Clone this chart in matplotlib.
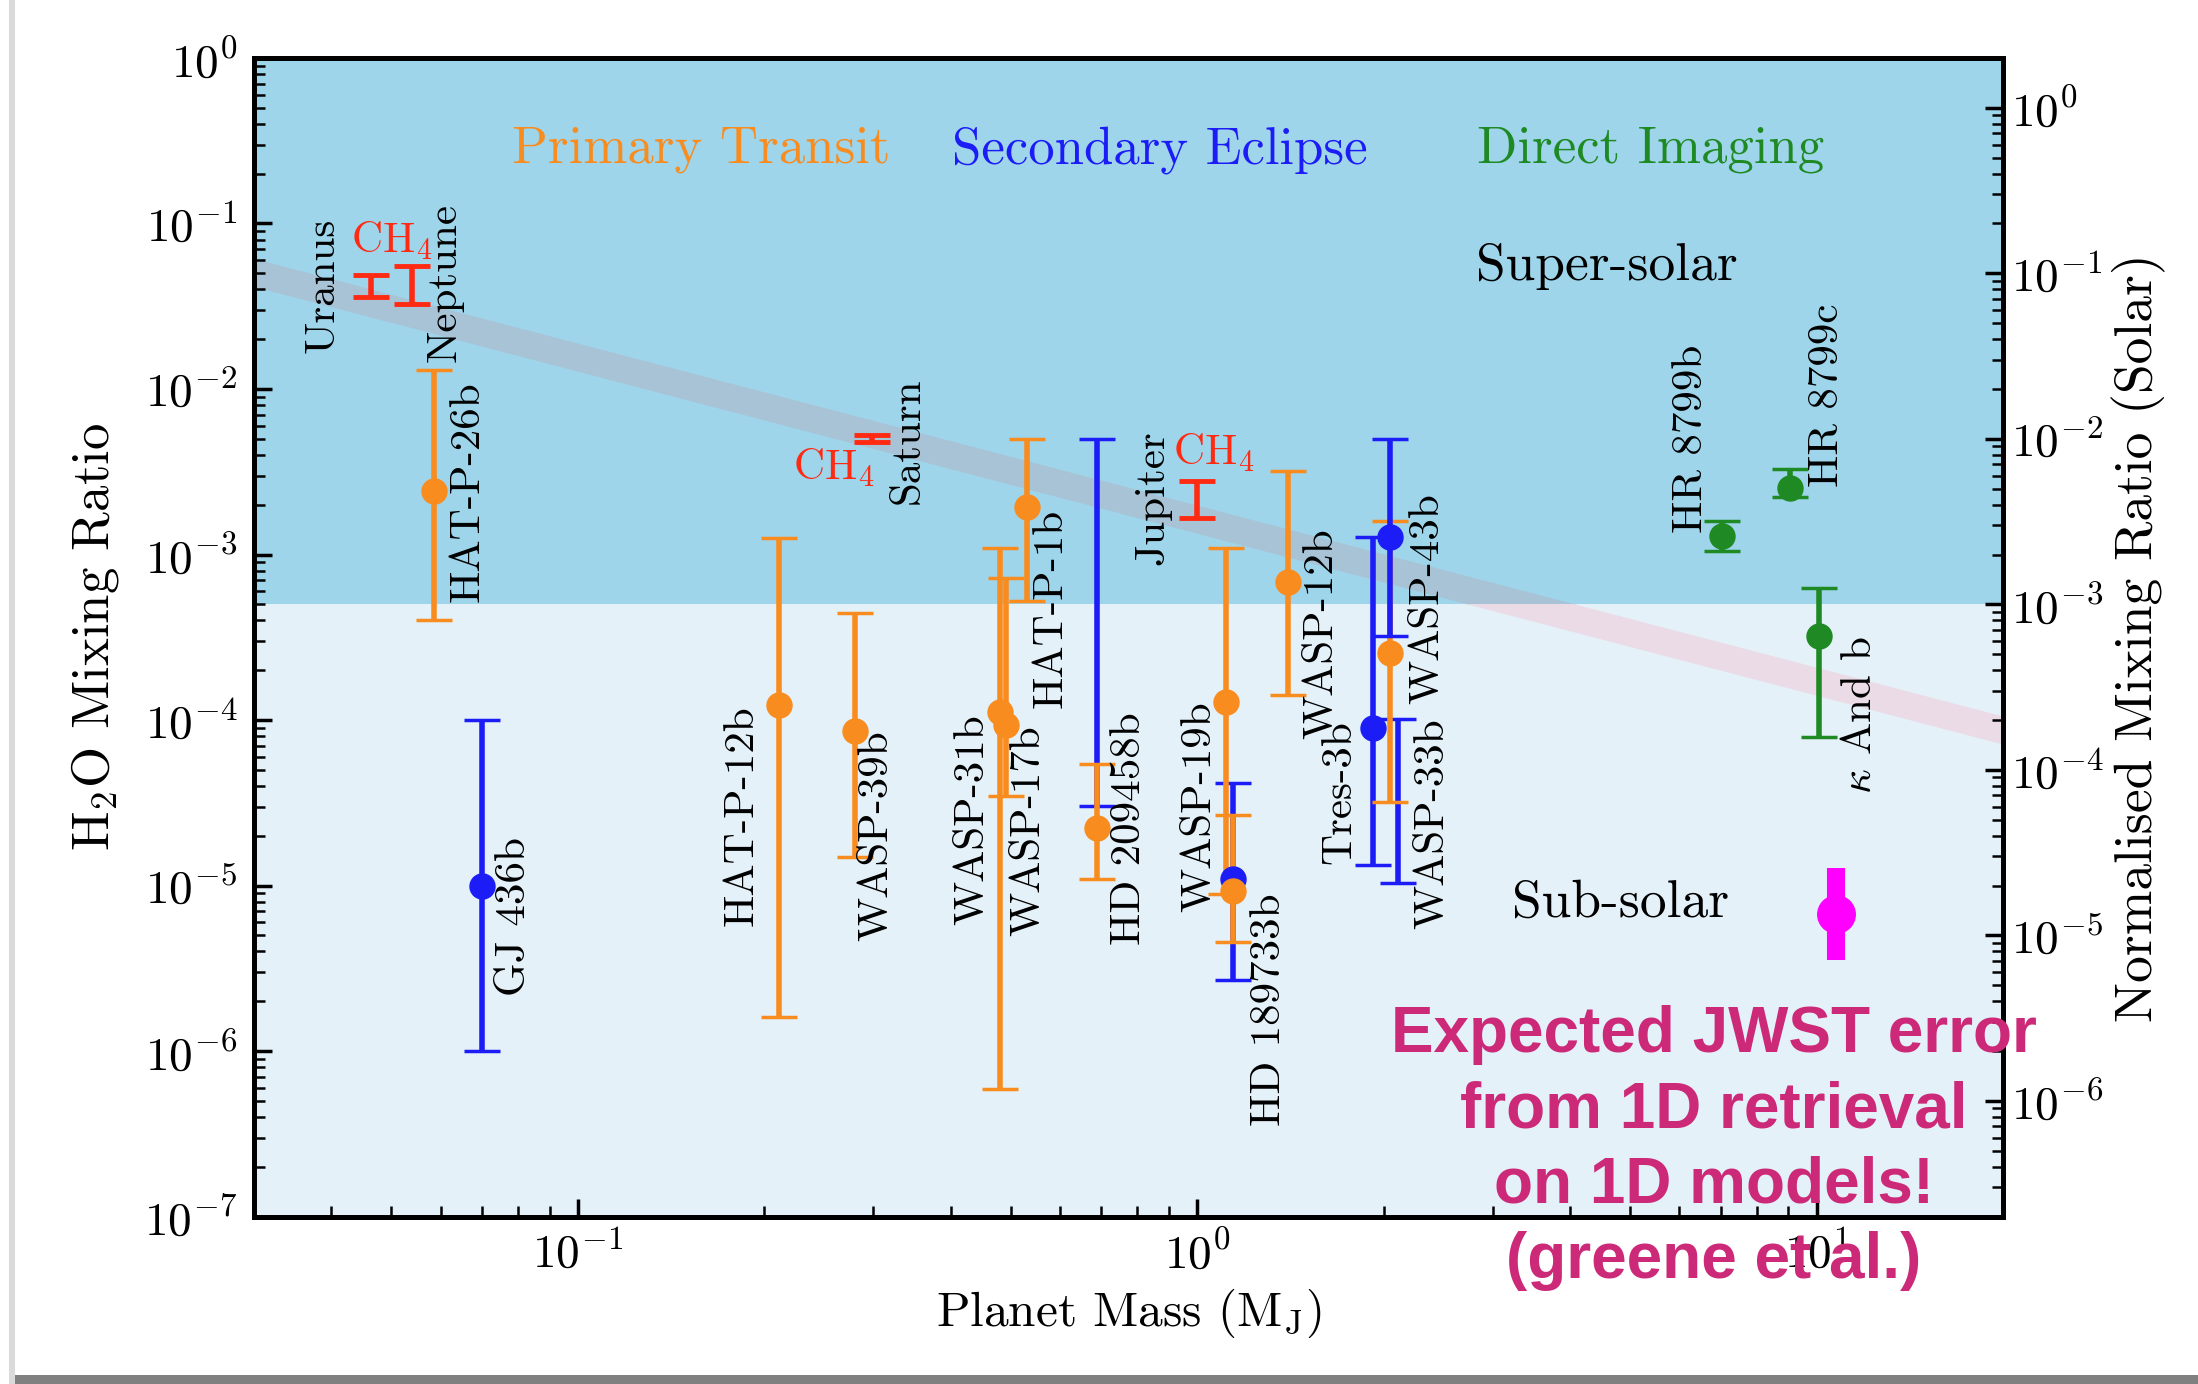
import matplotlib
matplotlib.use("Agg")
import matplotlib.pyplot as plt
from matplotlib.patches import Rectangle
import numpy as np

plt.rcParams["font.family"] = ["cmr10"]
plt.rcParams["mathtext.fontset"] = "cm"
plt.rcParams["axes.formatter.use_mathtext"] = True
plt.rcParams["axes.unicode_minus"] = False

ORANGE = "#f98c1f"
BLUE = "#1c1cf7"
GREEN = "#1f8a24"
RED = "#ff2a12"
MAGENTA = "#ff00ff"
NOTE = "#cc2a78"
SUPER_BG = "#9ed5eb"
SUB_BG = "#e4f1f9"
BAND_TOP = "#a8c3d6"
BAND_BOT = "#ebdbe6"

# primary transit (H2O)
pt_names = ["HAT-P-26b", "HAT-P-12b", "WASP-39b", "WASP-31b", "WASP-17b", "HAT-P-1b",
            "HD 209458b", "WASP-19b", "HD 189733b", "WASP-12b", "WASP-43b"]
pt_mass = [0.0585, 0.211, 0.28, 0.48, 0.491, 0.531, 0.69, 1.114, 1.142, 1.40, 2.05]
pt_h2o = [2.42e-3, 1.23e-4, 8.6e-5, 1.12e-4, 9.3e-5, 1.94e-3, 2.22e-5, 1.29e-4, 9.3e-6, 6.85e-4, 2.53e-4]
pt_lo = [4.04e-4, 1.61e-6, 1.48e-5, 5.9e-7, 3.47e-5, 5.24e-4, 1.1e-5, 8.9e-6, 4.54e-6, 1.42e-4, 3.2e-5]
pt_hi = [1.31e-2, 1.26e-3, 4.46e-4, 1.10e-3, 7.24e-4, 4.99e-3, 5.4e-5, 1.10e-3, 2.67e-5, 3.2e-3, 1.59e-3]

# secondary eclipse (H2O), nan = range only
se_names = ["GJ 436b", "HD 209458b", "HD 189733b", "Tres-3b", "WASP-43b", "WASP-33b"]
se_mass = [0.07, 0.69, 1.142, 1.92, 2.05, 2.11]
se_h2o = [1.0e-5, np.nan, 1.09e-5, 8.9e-5, 1.28e-3, np.nan]
se_lo = [1.0e-6, 3.02e-5, 2.68e-6, 1.33e-5, 3.22e-4, 1.03e-5]
se_hi = [1.0e-4, 4.99e-3, 4.18e-5, 1.28e-3, 4.99e-3, 1.01e-4]

# direct imaging (H2O)
di_names = ["HR 8799b", "HR 8799c", r"$\kappa$ And b"]
di_mass = [7.03, 9.07, 10.1]
di_h2o = [1.30e-3, 2.52e-3, 3.21e-4]
di_lo = [1.05e-3, 2.23e-3, 7.9e-5]
di_hi = [1.59e-3, 3.3e-3, 6.24e-4]

# solar system CH4
ss_names = ["Uranus", "Neptune", "Saturn", "Jupiter"]
ss_mass = [0.0463, 0.054, 0.298, 1.0]
ss_lo = [0.036, 0.0328, 4.78e-3, 1.66e-3]
ss_hi = [0.0491, 0.055, 5.25e-3, 2.78e-3]

# expected JWST error
jwst_mass = [10.76]
jwst_h2o = [6.7e-6]
jwst_lo = [3.55e-6]
jwst_hi = [1.28e-5]

# mass-metallicity band (edges of the plot)
band_mass = [0.03, 20.0]
band_lo = [0.0416, 7.15e-5]
band_hi = [0.0615, 1.057e-4]

solar_h2o = 5e-4

# label centres (data coords)
LABEL_POS = {
    "Uranus": (0.0388, 0.0425), "Neptune": (0.0609, 0.0443),
    "HAT-P-26b": (0.0664, 2.39e-3), "GJ 436b": (0.0788, 6.45e-6),
    "HAT-P-12b": (0.1842, 2.63e-5), "WASP-39b": (0.3034, 1.99e-5),
    "Saturn": (0.3406, 4.85e-3), "WASP-31b": (0.434, 2.49e-5),
    "WASP-17b": (0.535, 2.13e-5), "HAT-P-1b": (0.580, 4.75e-4),
    "HD 209458b": (0.776, 2.22e-5), "Jupiter": (0.846, 2.19e-3),
    "WASP-19b": (1.007, 2.98e-5), "HD 189733b": (1.308, 1.77e-6),
    "WASP-12b": (1.587, 3.31e-4), "Tres-3b": (1.697, 3.67e-5),
    "WASP-43b": (2.356, 5.38e-4), "WASP-33b": (2.40, 2.35e-5),
    "HR 8799b": (6.28, 4.99e-3), "HR 8799c": (10.42, 9.2e-3),
    r"$\kappa$ And b": (11.74, 1.07e-4),
}
CH4_POS = [(0.050, 0.0784), (0.2587, 3.33e-3), (1.065, 4.1e-3)]


def draw_ranges(ax, mass, lo, hi, color, z, lw=4.0, cap=13, capthick=2.5):
    for m, l, h in zip(mass, lo, hi):
        ax.errorbar([m], [l], yerr=[[0], [h - l]], fmt="none", ecolor=color,
                    elinewidth=lw, capsize=cap, capthick=capthick, zorder=z)


fig = plt.figure(figsize=(21.98, 13.84), dpi=100)
fig.patch.set_facecolor("white")
ax = fig.add_axes([0.1156, 0.1210, 0.7957, 0.8371])
ax.set_xscale("log")
ax.set_yscale("log")
ax.set_xlim(0.03, 20)
ax.set_ylim(1e-7, 1)

# super / sub solar regions
ax.axhspan(solar_h2o, 1, color=SUPER_BG, lw=0, zorder=0)
ax.axhspan(1e-7, solar_h2o, color=SUB_BG, lw=0, zorder=0)
top = Rectangle((0.03, solar_h2o), 20, 1, transform=ax.transData)
bot = Rectangle((0.03, 1e-8), 20, solar_h2o - 1e-8, transform=ax.transData)
b1 = ax.fill_between(band_mass, band_lo, band_hi, color=BAND_TOP, lw=0, zorder=1)
b1.set_clip_path(top)
b2 = ax.fill_between(band_mass, band_lo, band_hi, color=BAND_BOT, lw=0, zorder=1)
b2.set_clip_path(bot)

# error bars
draw_ranges(ax, ss_mass, ss_lo, ss_hi, RED, 3, lw=4.0, cap=13, capthick=3.5)
for name, m, l, h in zip(se_names, se_mass, se_lo, se_hi):
    draw_ranges(ax, [m], [l], [h], BLUE, 4.5 if name == "WASP-43b" else 3)
draw_ranges(ax, pt_mass, pt_lo, pt_hi, ORANGE, 4)
draw_ranges(ax, di_mass, di_lo, di_hi, GREEN, 4)

ax.plot(se_mass, se_h2o, "o", ms=18, color=BLUE, zorder=5, ls="none")
ax.plot(pt_mass, pt_h2o, "o", ms=18, color=ORANGE, zorder=5.5, ls="none")
ax.plot(di_mass, di_h2o, "o", ms=18, color=GREEN, zorder=5, ls="none")

ax.errorbar(jwst_mass, jwst_h2o,
            yerr=[np.array(jwst_h2o) - np.array(jwst_lo), np.array(jwst_hi) - np.array(jwst_h2o)],
            fmt="o", ms=27, color=MAGENTA, elinewidth=13, capsize=0, zorder=6)

# planet labels
for name, (x, y) in LABEL_POS.items():
    ax.text(x, y, name, rotation=90, ha="center", va="center", fontsize=31, zorder=7)
for x, y in CH4_POS:
    ax.text(x, y, r"CH$_4$", ha="center", va="center", fontsize=31, color=RED, zorder=7)

ax.text(0.2556, 0.9206, "Primary Transit", transform=ax.transAxes, ha="center",
        va="center", fontsize=38, color=ORANGE)
ax.text(0.518, 0.9206, "Secondary Eclipse", transform=ax.transAxes, ha="center",
        va="center", fontsize=38, color=BLUE)
ax.text(0.7987, 0.9206, "Direct Imaging", transform=ax.transAxes, ha="center",
        va="center", fontsize=38, color=GREEN)
ax.text(0.6987, 0.8196, "Super-solar", transform=ax.transAxes, ha="left",
        va="center", fontsize=38.5)
ax.text(0.7193, 0.2706, "Sub-solar", transform=ax.transAxes, ha="left",
        va="center", fontsize=38.5)

ax.set_xlabel(r"Planet Mass $(\mathrm{M_J})$", fontsize=35.5)
ax.set_ylabel(r"H$_2$O Mixing Ratio", fontsize=38)
ax.xaxis.set_label_coords(0.5, -0.061)
ax.yaxis.set_label_coords(-0.076, 0.5)

ax.tick_params(which="both", direction="in", top=False, right=False)
ax.tick_params(which="major", length=13, width=2.5, labelsize=34, pad=12)
ax.tick_params(which="minor", length=8, width=1.8)
ax.tick_params(axis="x", which="major", pad=10)
for s in ax.spines.values():
    s.set_linewidth(3.5)

ax2 = ax.twinx()
ax2.set_yscale("log")
ax2.set_ylim(2e-7, 2)
ax2.tick_params(which="both", direction="in")
ax2.tick_params(which="major", length=13, width=2.5, labelsize=34, pad=6)
ax2.tick_params(which="minor", length=8, width=1.8)
ax2.set_ylabel("Normalised Mixing Ratio (Solar)", fontsize=38.5)
ax2.yaxis.set_label_coords(1.062, 0.5)
for s in ax2.spines.values():
    s.set_linewidth(3.5)

fig.text(0.7797, 0.1705, "Expected JWST error\nfrom 1D retrieval\non 1D models!\n(greene et al.)",
         ha="center", va="center", fontsize=46, color=NOTE, weight="bold",
         family=["Liberation Sans"], linespacing=1.32, zorder=10)

# slide frame shadow
fig.add_artist(Rectangle((9 / 2198, 0), 6 / 2198, 1, transform=fig.transFigure,
                         color="#dadada", lw=0))
fig.add_artist(Rectangle((15 / 2198, 0), 1, 9 / 1384, transform=fig.transFigure,
                         color="#808080", lw=0))

fig.savefig("out.png", dpi=100)
